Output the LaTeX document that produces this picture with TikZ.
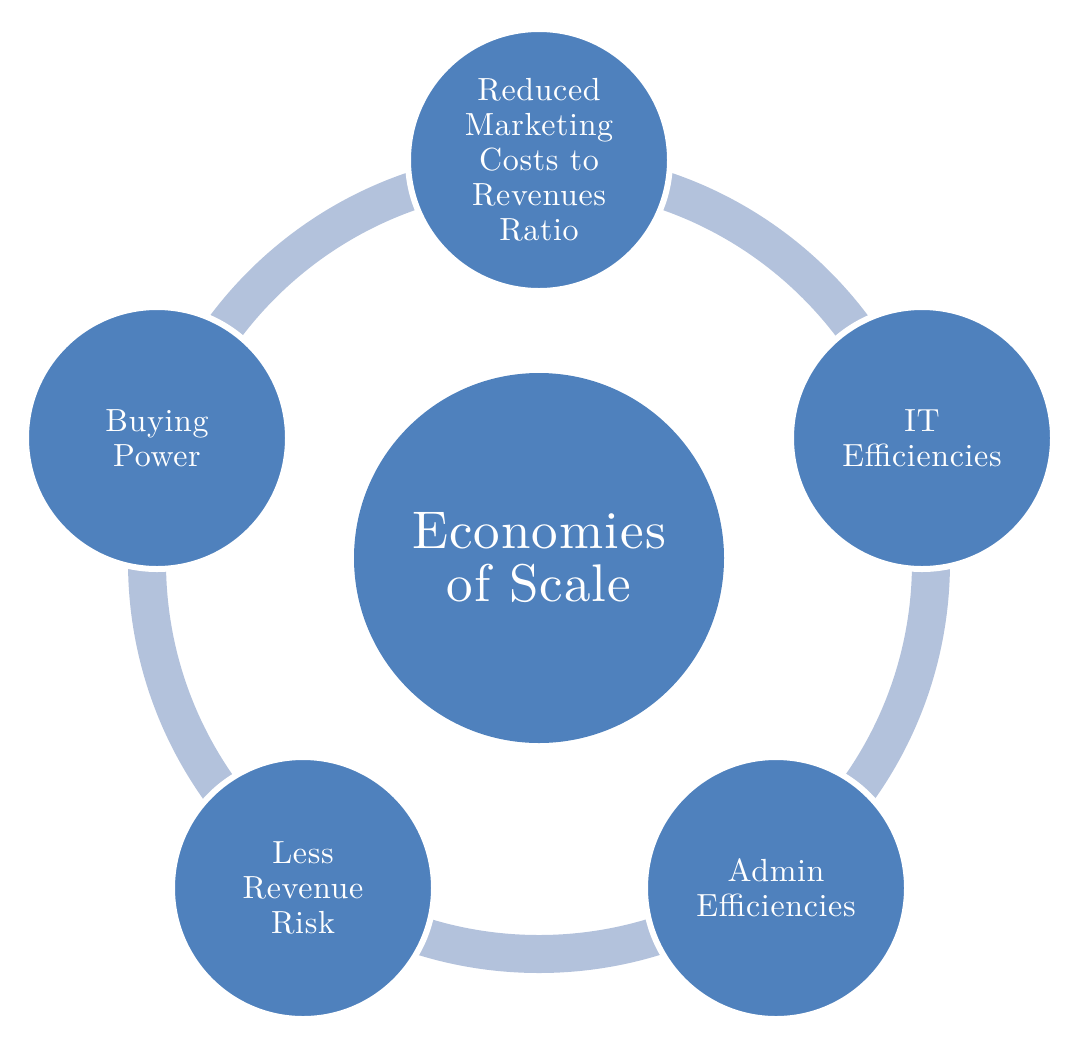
\documentclass[tikz,border=0pt]{standalone}
\usepackage{fontspec}
\setmainfont{lmroman10-regular.otf}[LetterSpace=2]
\usepackage{tikz}
\definecolor{circblue}{HTML}{4F81BD}
\definecolor{ringblue}{HTML}{B3C2DC}
\begin{document}
\begin{tikzpicture}[x=1pt,y=-1pt,
  outer/.style={circle, fill=circblue, draw=white, line width=6pt, minimum size=262pt, inner sep=0pt,
    text=white, align=center, font=\fontsize{32}{35}\selectfont},
  center/.style={circle, fill=circblue, minimum size=370pt, inner sep=0pt,
    text=white, align=center, font=\fontsize{53}{53}\selectfont},
  ring/.style={draw=ringblue, line width=38pt}]
\useasboundingbox (0,0) rectangle (1089,1050);
\coordinate (c) at (539,562);
\draw[ring] (c) circle (392);
\node[center] (eos) at (539,558) {Economies\\of Scale};
\node[outer] (mkt) at (539,160) {Reduced\\Marketing\\Costs to\\Revenues\\Ratio};
\node[outer] (it) at (922,438) {IT\\Efficiencies};
\node[outer] (adm) at (776,888) {Admin\\Efficiencies};
\node[outer] (risk) at (303,888) {Less\\Revenue\\Risk};
\node[outer] (buy) at (157,438) {Buying\\Power};
\end{tikzpicture}
\end{document}
